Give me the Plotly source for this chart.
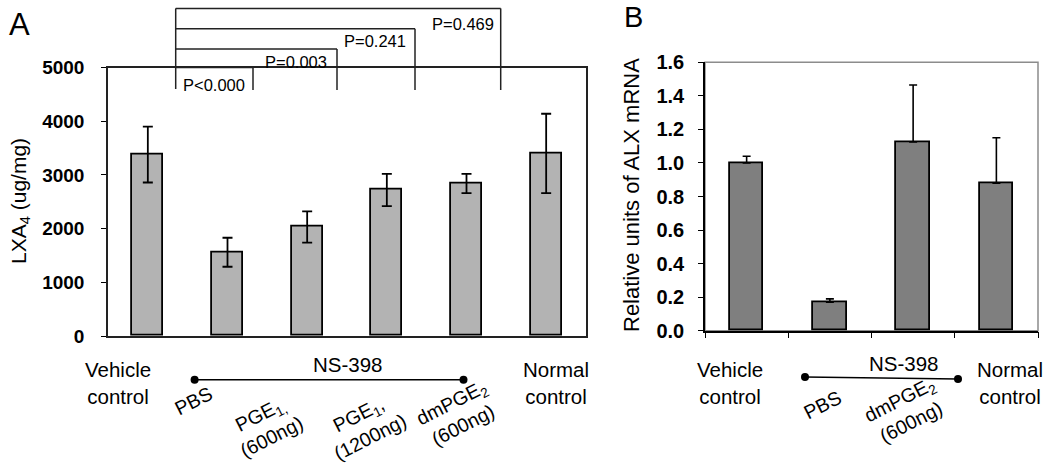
import plotly.graph_objects as go

# ---------------- data ----------------
a_groups = ["Vehicle control", "PBS", "PGE1 600ng", "PGE1 1200ng", "dmPGE2 600ng", "Normal control"]
a_lxa4 = [3380, 1560, 2030, 2720, 2840, 3400]
a_err = [520, 270, 290, 300, 180, 740]
a_ticks = [0, 1000, 2000, 3000, 4000, 5000]
a_pvals = ["P<0.000", "P=0.003", "P=0.241", "P=0.469"]

b_groups = ["Vehicle control", "PBS", "dmPGE2 600ng", "Normal control"]
b_alx = [1.00, 0.17, 1.125, 0.88]
b_err = [0.04, 0.02, 0.34, 0.27]
b_ticks = [0.0, 0.2, 0.4, 0.6, 0.8, 1.0, 1.2, 1.4, 1.6]

# ---------------- layout helpers ----------------
W, H = 1050, 465
FONT = "Arial, Liberation Sans, sans-serif"


def px(x):
    return x / W


def py(y):
    return 1 - y / H


fig = go.Figure()

fig.add_trace(go.Bar(
    x=list(range(len(a_groups))), y=a_lxa4, width=0.39,
    marker=dict(color="#b3b3b3", line=dict(color="black", width=1.8)),
    error_y=dict(type="data", array=a_err, color="black", thickness=1.8, width=5),
    xaxis="x", yaxis="y", showlegend=False, hoverinfo="skip"))

fig.add_trace(go.Bar(
    x=list(range(len(b_groups))), y=b_alx, width=0.4,
    marker=dict(color="#7f7f7f", line=dict(color="black", width=1.8)),
    error_y=dict(type="data", symmetric=False, array=b_err,
                 arrayminus=[0] * len(b_err), color="black", thickness=1.6, width=4),
    xaxis="x2", yaxis="y2", showlegend=False, hoverinfo="skip"))

axis_common = dict(showgrid=False, zeroline=False, linewidth=1.5,
                   showline=True, automargin=False)

fig.update_layout(
    width=W, height=H, margin=dict(l=0, r=0, t=0, b=0, pad=0, autoexpand=False),
    paper_bgcolor="white", plot_bgcolor="white",
    font=dict(family=FONT, color="black"),
    bargap=0,
    xaxis=dict(domain=[px(108), px(586)], range=[-0.5, 5.5], anchor="y",
               showticklabels=False, ticks="", mirror=True, linecolor="#222", **axis_common),
    yaxis=dict(domain=[py(336), py(67.6)], range=[0, 5000], anchor="x",
               tickvals=a_ticks, ticktext=[f"<b>{t}</b>" for t in a_ticks],
               ticks="outside", ticklen=5, tickcolor="black",
               tickfont=dict(size=19, family=FONT), ticklabelstandoff=13,
               mirror=True, linecolor="#222", **axis_common),
    xaxis2=dict(domain=[px(705), px(1038)], range=[-0.5, 3.5], anchor="y2",
                showticklabels=False, tickvals=[-0.5, 0.5, 1.5, 2.5, 3.5],
                ticks="outside", ticklen=6, tickcolor="black", linecolor="black", **axis_common),
    yaxis2=dict(domain=[py(330.7), py(62.3)], range=[0, 1.6], anchor="x2",
                tickvals=b_ticks, ticktext=[f"<b>{t:.1f}</b>" for t in b_ticks],
                ticks="outside", ticklen=5, tickcolor="black",
                tickfont=dict(size=20, family=FONT), ticklabelstandoff=10,
                linecolor="black", **axis_common),
)

shapes = []
annotations = []


def line(x0, y0, x1, y1, color="black", width=1.5, layer="above"):
    shapes.append(dict(type="line", xref="paper", yref="paper",
                       x0=px(x0), y0=py(y0), x1=px(x1), y1=py(y1),
                       line=dict(color=color, width=width), layer=layer))


def dot(x, y, r=4):
    shapes.append(dict(type="circle", xref="paper", yref="paper",
                       x0=px(x - r), y0=py(y + r), x1=px(x + r), y1=py(y - r),
                       fillcolor="black", line=dict(color="black", width=0)))


def text(s, x, y, size=20, angle=0, xanchor="center", yanchor="middle", align="center"):
    annotations.append(dict(text=s, xref="paper", yref="paper", x=px(x), y=py(y),
                            xanchor=xanchor, yanchor=yanchor, showarrow=False,
                            textangle=angle, align=align,
                            font=dict(size=size, family=FONT, color="black")))


# panel B grey frame (top / right)
shapes.append(dict(type="rect", xref="paper", yref="paper",
                   x0=px(705), y0=py(330.7), x1=px(1038), y1=py(62.3),
                   line=dict(color="#8c8c8c", width=1.5), layer="below"))

# significance brackets in panel A
br_left = 175.7
br_rights = [253, 337, 415, 500.7]
br_levels = [67.6, 49, 28.7, 8.4]
br_bottom = 89
p_pos = [(214, 84.5), (296, 61.5), (375, 41), (463, 23.5)]
line(br_left, br_levels[-1], br_left, br_bottom, color="#222")
for xr, yl, pv, (tx, ty) in zip(br_rights, br_levels, a_pvals, p_pos):
    line(br_left, yl, xr, yl, color="#222")
    line(xr, yl, xr, br_bottom + 1, color="#222")
    text(pv, tx, ty, size=16.5)

# panel letters
text("A", 19, 25, size=31)
text("B", 633, 17, size=29)

# axis titles
text("LXA<sub>4</sub> (ug/mg)", 20, 201, size=21, angle=-90)
text("Relative units of ALX mRNA", 631, 195, size=22, angle=-90)

# panel A category labels
text("Vehicle<br>control", 118, 383, size=20.5)
text("Normal<br>control", 556, 383, size=20.5)
text("NS-398", 348, 364, size=20.5)
line(194.6, 379.7, 463.5, 379.7, width=1.5)
dot(194.6, 379.7)
dot(463.5, 379.7)
text("PBS", 193, 401, size=19.5, angle=-27)
text("PGE<sub>1,</sub><br>(600ng)", 265, 425, size=19.5, angle=-27)
text("PGE<sub>1</sub>,<br>(1200ng)", 364, 425, size=19.5, angle=-27)
text("dmPGE<sub>2</sub><br>(600ng)", 457, 413, size=19.5, angle=-27)

# panel B category labels
text("Vehicle<br>control", 730, 383, size=20.5)
text("Normal<br>control", 1010, 383, size=20.5)
text("NS-398", 904, 363, size=20.5)
line(805, 377, 958, 379, width=1.5)
dot(805, 377)
dot(958, 379)
text("PBS", 822, 405, size=19.5, angle=-27)
text("dmPGE<sub>2</sub><br>(600ng)", 905, 410, size=19.5, angle=-27)

fig.update_layout(shapes=shapes, annotations=annotations)
fig.write_html("out.html", config={"displayModeBar": False},
               post_script="document.body.style.margin='0';document.body.style.overflow='hidden';")
